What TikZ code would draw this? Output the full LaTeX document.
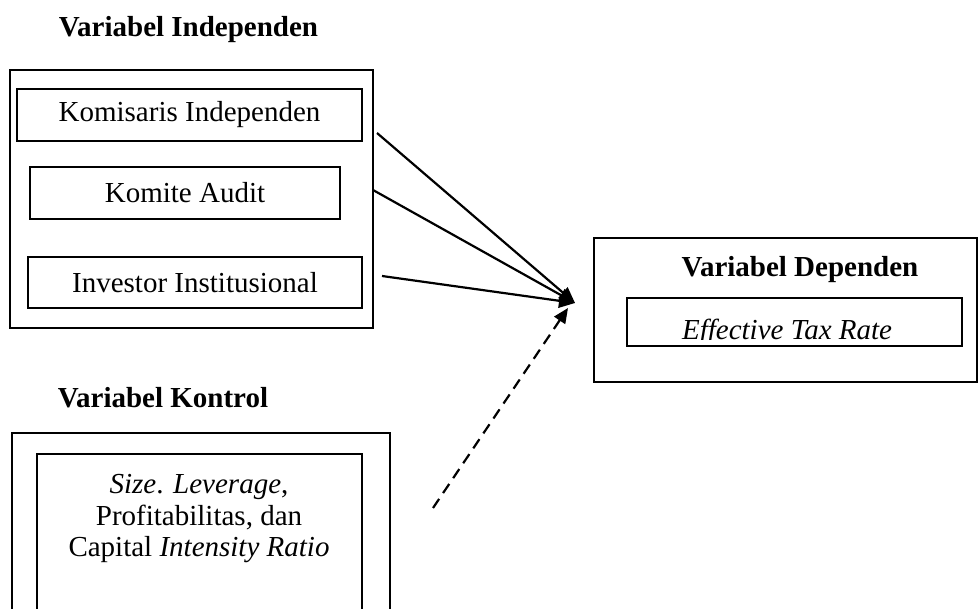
\documentclass[tikz,border=0pt]{standalone}
\usepackage{fontspec}
\setmainfont{Liberation Serif}
\usetikzlibrary{arrows.meta}
\begin{document}
\begin{tikzpicture}[x=1pt,y=-1pt,
  font=\fontsize{29}{32}\selectfont,
  outerbox/.style={draw=black,line width=1.7pt,inner sep=0pt},
  innerbox/.style={draw=black,line width=2.8pt,inner sep=0pt,align=center},
  title/.style={font=\fontsize{29}{32}\selectfont\bfseries,inner sep=0pt},
  conn/.style={line width=2.2pt,-{Triangle[length=16pt,width=14pt]}},
  dconn/.style={line width=2.2pt,dash pattern=on 11pt off 7pt,-{Triangle[length=15pt,width=13pt]}}]
\useasboundingbox (0,0) rectangle (979,609);
\clip (0,0) rectangle (979,609);
% titles
\node[title] (ti) at (188.5,30) {Variabel Independen};
\node[title] (tk) at (163,398) {Variabel Kontrol};
% independent group
\node[outerbox,minimum width=363pt,minimum height=258pt] (ind) at (191.5,199) {};
\node[innerbox,minimum width=345pt,minimum height=52pt] (kom) at (189.5,115) {Komisaris Independen};
\node[innerbox,minimum width=310pt,minimum height=52pt] (aud) at (185,193) {Komite Audit};
\node[innerbox,minimum width=334pt,minimum height=51pt] (inv) at (195,282.5) {Investor Institusional};
% dependent
\node[outerbox,minimum width=383pt,minimum height=144pt] (dep) at (785.5,310) {};
\node[title] (td) at (800,270) {Variabel Dependen};
\node[innerbox,minimum width=335pt,minimum height=48pt] (etr) at (794.5,322) {};
\begin{scope}
\clip (628,299) rectangle (961,339);
\node[anchor=base,inner sep=0pt] (etrt) at (787,339) {\itshape Effective Tax Rate};
\end{scope}
% control
\draw[line width=1.7pt] (12,640) -- (12,433) -- (390,433) -- (390,640);
\draw[line width=2.8pt] (37,640) -- (37,454) -- (362,454) -- (362,640);
\node[align=center,inner sep=0pt,font=\fontsize{29}{31.5}\selectfont] (ctl) at (199,519)
  {\itshape Size\upshape. \itshape Leverage\upshape,\\ Profitabilitas, dan\\ Capital \itshape Intensity Ratio};
% connectors
\coordinate (s1) at (377,133);
\coordinate (s2) at (373,190);
\coordinate (s3) at (382,276);
\coordinate (s4) at (433,508);
\coordinate (t) at (575,303);
\coordinate (t2) at (568,308);
\draw[conn] (s1) -- (t);
\draw[conn] (s2) -- (t);
\draw[conn] (s3) -- (t);
\draw[dconn] (s4) -- (t2);
\end{tikzpicture}
\end{document}
